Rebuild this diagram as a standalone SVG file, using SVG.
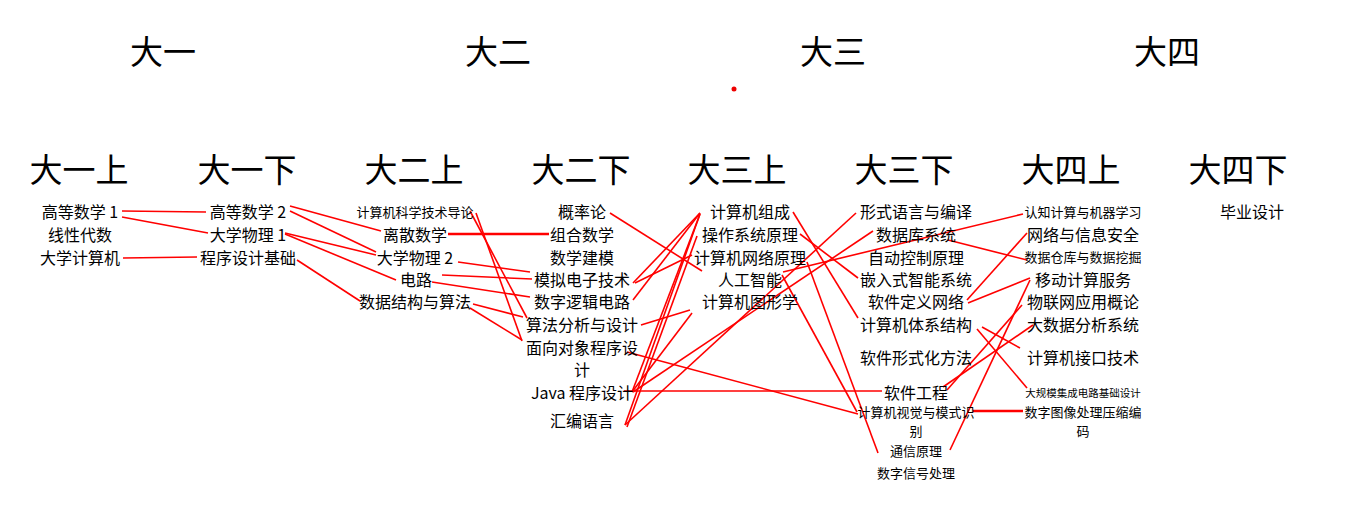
<svg xmlns="http://www.w3.org/2000/svg" width="1352" height="532" viewBox="0 0 1352 532">
<style>
text{font-family:"Noto Sans CJK SC","Noto Sans",sans-serif;fill:#000;text-anchor:middle;dominant-baseline:central}
.h{font-size:33px}
.c{font-size:16px}
.s{font-size:13px}
.xs{font-size:10.5px}
#links line{stroke:#ff0000;stroke-width:1.6;fill:none}
#links line.w{stroke-width:2.6}
</style>
<rect width="1352" height="532" fill="#fff"/>
<g id="years">
<text class="h" x="163" y="50">大一</text>
<text class="h" x="498" y="50">大二</text>
<text class="h" x="833" y="50">大三</text>
<text class="h" x="1167" y="50">大四</text>
</g>
<circle cx="734" cy="89" r="2.5" fill="#e00"/>
<g id="semesters">
<text class="h" x="79" y="168">大一上</text>
<text class="h" x="247" y="168">大一下</text>
<text class="h" x="414" y="168">大二上</text>
<text class="h" x="581" y="168">大二下</text>
<text class="h" x="737" y="168">大三上</text>
<text class="h" x="904" y="168">大三下</text>
<text class="h" x="1071" y="168">大四上</text>
<text class="h" x="1238" y="168">大四下</text>
</g>
<g id="links">
<line x1="122" y1="211" x2="206" y2="212"/>
<line x1="122" y1="217" x2="208" y2="233"/>
<line x1="123" y1="258" x2="197" y2="257"/>
<line x1="290" y1="206" x2="381" y2="231"/>
<line x1="290" y1="211" x2="376" y2="252"/>
<line x1="285" y1="233" x2="376" y2="255"/>
<line x1="285" y1="234" x2="396" y2="280"/>
<line x1="297" y1="260" x2="360" y2="301"/>
<line x1="470" y1="211" x2="527" y2="318"/>
<line x1="476" y1="213" x2="522" y2="341"/>
<line class="w" x1="448" y1="234" x2="549" y2="234"/>
<line x1="458" y1="262" x2="530" y2="272"/>
<line x1="442" y1="275" x2="532" y2="279"/>
<line x1="432" y1="282" x2="530" y2="297"/>
<line x1="473" y1="304" x2="523" y2="317"/>
<line x1="470" y1="308" x2="522" y2="340"/>
<line x1="610" y1="213" x2="702" y2="271"/>
<line x1="700" y1="213" x2="633" y2="283"/>
<line x1="700" y1="213" x2="633" y2="300"/>
<line x1="692" y1="255" x2="635" y2="283"/>
<line x1="641" y1="325" x2="690" y2="310"/>
<line x1="692" y1="313" x2="632" y2="392"/>
<line x1="700" y1="214" x2="625" y2="425"/>
<line x1="697" y1="236" x2="627" y2="427"/>
<line x1="700" y1="214" x2="632" y2="392"/>
<line x1="793" y1="212" x2="858" y2="318"/>
<line x1="800" y1="234" x2="858" y2="278"/>
<line x1="807" y1="262" x2="878" y2="453"/>
<line x1="782" y1="275" x2="857" y2="412"/>
<line x1="783" y1="272" x2="1023" y2="214"/>
<line x1="856" y1="213" x2="625" y2="425"/>
<line x1="873" y1="231" x2="633" y2="392"/>
<line x1="624" y1="391" x2="882" y2="391"/>
<line x1="627" y1="352" x2="858" y2="414"/>
<line x1="948" y1="240" x2="1027" y2="260"/>
<line x1="967" y1="300" x2="1027" y2="233"/>
<line x1="968" y1="303" x2="1030" y2="278"/>
<line x1="982" y1="327" x2="1020" y2="348"/>
<line x1="977" y1="329" x2="1027" y2="388"/>
<line x1="947" y1="390" x2="1022" y2="305"/>
<line x1="943" y1="387" x2="1033" y2="325"/>
<line x1="950" y1="450" x2="1030" y2="280"/>
<line class="w" x1="973" y1="411" x2="1023" y2="411"/>
</g>
<g id="n-gs1"><text class="c" x="80" y="211">高等数学 1</text></g>
<g id="n-xd"><text class="c" x="80" y="234">线性代数</text></g>
<g id="n-dxjsj"><text class="c" x="80" y="257">大学计算机</text></g>
<g id="n-gs2"><text class="c" x="248" y="211">高等数学 2</text></g>
<g id="n-wl1"><text class="c" x="248" y="234">大学物理 1</text></g>
<g id="n-cxjc"><text class="c" x="248" y="257">程序设计基础</text></g>
<g id="n-dl"><text class="s" x="415" y="211">计算机科学技术导论</text></g>
<g id="n-ls"><text class="c" x="415" y="234">离散数学</text></g>
<g id="n-wl2"><text class="c" x="415" y="257">大学物理 2</text></g>
<g id="n-dlu"><text class="c" x="416" y="279">电路</text></g>
<g id="n-sjjg"><text class="c" x="415" y="301">数据结构与算法</text></g>
<g id="n-gl"><text class="c" x="582" y="211">概率论</text></g>
<g id="n-zh"><text class="c" x="582" y="234">组合数学</text></g>
<g id="n-jm"><text class="c" x="582" y="257">数学建模</text></g>
<g id="n-mn"><text class="c" x="582" y="279">模拟电子技术</text></g>
<g id="n-sz"><text class="c" x="582" y="301">数字逻辑电路</text></g>
<g id="n-sf"><text class="c" x="582" y="324">算法分析与设计</text></g>
<g id="n-mx"><text class="c" x="582" y="347">面向对象程序设</text><text class="c" x="582" y="369">计</text></g>
<g id="n-java"><text class="c" x="582" y="392">Java 程序设计</text></g>
<g id="n-hb"><text class="c" x="582" y="420">汇编语言</text></g>
<g id="n-zc"><text class="c" x="750" y="211">计算机组成</text></g>
<g id="n-cz"><text class="c" x="750" y="234">操作系统原理</text></g>
<g id="n-wl"><text class="c" x="750" y="257">计算机网络原理</text></g>
<g id="n-ai"><text class="c" x="750" y="279">人工智能</text></g>
<g id="n-tx"><text class="c" x="750" y="301">计算机图形学</text></g>
<g id="n-by"><text class="c" x="916" y="211">形式语言与编译</text></g>
<g id="n-db"><text class="c" x="916" y="234">数据库系统</text></g>
<g id="n-zk"><text class="c" x="916" y="257">自动控制原理</text></g>
<g id="n-qr"><text class="c" x="916" y="279">嵌入式智能系统</text></g>
<g id="n-sdn"><text class="c" x="916" y="301">软件定义网络</text></g>
<g id="n-tj"><text class="c" x="916" y="324">计算机体系结构</text></g>
<g id="n-xs"><text class="c" x="916" y="357">软件形式化方法</text></g>
<g id="n-rg"><text class="c" x="916" y="392">软件工程</text></g>
<g id="n-cv"><text class="s" x="916" y="411">计算机视觉与模式识</text><text class="s" x="916" y="430">别</text></g>
<g id="n-tx2"><text class="s" x="916" y="450">通信原理</text></g>
<g id="n-dsp"><text class="s" x="916" y="472">数字信号处理</text></g>
<g id="n-ml"><text class="s" x="1083" y="211">认知计算与机器学习</text></g>
<g id="n-aq"><text class="c" x="1083" y="234">网络与信息安全</text></g>
<g id="n-wj"><text class="s" x="1083" y="256">数据仓库与数据挖掘</text></g>
<g id="n-yd"><text class="c" x="1083" y="279">移动计算服务</text></g>
<g id="n-iot"><text class="c" x="1083" y="301">物联网应用概论</text></g>
<g id="n-dsj"><text class="c" x="1083" y="324">大数据分析系统</text></g>
<g id="n-jk"><text class="c" x="1083" y="357">计算机接口技术</text></g>
<g id="n-vlsi"><text class="xs" x="1083" y="392">大规模集成电路基础设计</text></g>
<g id="n-img"><text class="s" x="1083" y="411">数字图像处理压缩编</text><text class="s" x="1083" y="430">码</text></g>
<g id="n-bs"><text class="c" x="1252" y="211">毕业设计</text></g>
</svg>
